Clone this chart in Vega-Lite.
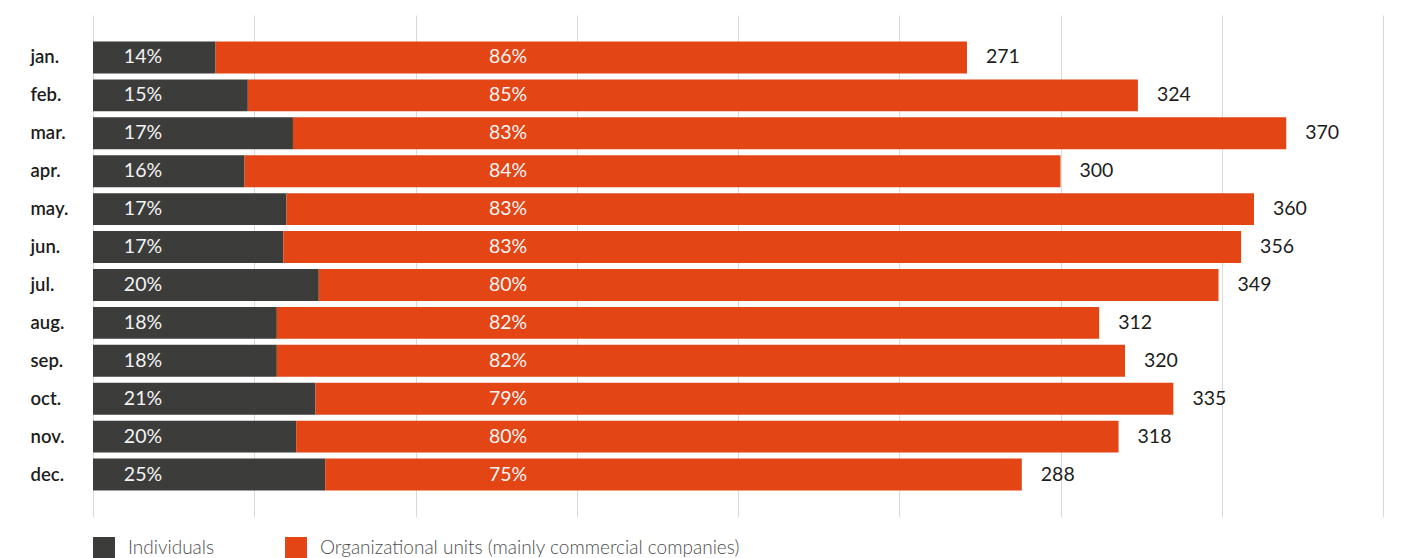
{
  "$schema": "https://vega.github.io/schema/vega-lite/v6.json",
  "width": 1290,
  "height": 502,
  "autosize": {"type": "none"},
  "padding": {"left": 93, "top": 15, "right": 21, "bottom": 41},
  "background": "white",
  "config": {"view": {"stroke": null}, "font": "Lato"},
  "data": {"values": [
    {"month": "jan.", "group": "Individuals", "seg": 1, "count": 38, "pct": 0.14, "total": 271},
    {"month": "jan.", "group": "Organizational units (mainly commercial companies)", "seg": 2, "count": 233, "pct": 0.86, "total": 271},
    {"month": "feb.", "group": "Individuals", "seg": 1, "count": 48, "pct": 0.15, "total": 324},
    {"month": "feb.", "group": "Organizational units (mainly commercial companies)", "seg": 2, "count": 276, "pct": 0.85, "total": 324},
    {"month": "mar.", "group": "Individuals", "seg": 1, "count": 62, "pct": 0.17, "total": 370},
    {"month": "mar.", "group": "Organizational units (mainly commercial companies)", "seg": 2, "count": 308, "pct": 0.83, "total": 370},
    {"month": "apr.", "group": "Individuals", "seg": 1, "count": 47, "pct": 0.16, "total": 300},
    {"month": "apr.", "group": "Organizational units (mainly commercial companies)", "seg": 2, "count": 253, "pct": 0.84, "total": 300},
    {"month": "may.", "group": "Individuals", "seg": 1, "count": 60, "pct": 0.17, "total": 360},
    {"month": "may.", "group": "Organizational units (mainly commercial companies)", "seg": 2, "count": 300, "pct": 0.83, "total": 360},
    {"month": "jun.", "group": "Individuals", "seg": 1, "count": 59, "pct": 0.17, "total": 356},
    {"month": "jun.", "group": "Organizational units (mainly commercial companies)", "seg": 2, "count": 297, "pct": 0.83, "total": 356},
    {"month": "jul.", "group": "Individuals", "seg": 1, "count": 70, "pct": 0.20, "total": 349},
    {"month": "jul.", "group": "Organizational units (mainly commercial companies)", "seg": 2, "count": 279, "pct": 0.80, "total": 349},
    {"month": "aug.", "group": "Individuals", "seg": 1, "count": 57, "pct": 0.18, "total": 312},
    {"month": "aug.", "group": "Organizational units (mainly commercial companies)", "seg": 2, "count": 255, "pct": 0.82, "total": 312},
    {"month": "sep.", "group": "Individuals", "seg": 1, "count": 57, "pct": 0.18, "total": 320},
    {"month": "sep.", "group": "Organizational units (mainly commercial companies)", "seg": 2, "count": 263, "pct": 0.82, "total": 320},
    {"month": "oct.", "group": "Individuals", "seg": 1, "count": 69, "pct": 0.21, "total": 335},
    {"month": "oct.", "group": "Organizational units (mainly commercial companies)", "seg": 2, "count": 266, "pct": 0.79, "total": 335},
    {"month": "nov.", "group": "Individuals", "seg": 1, "count": 63, "pct": 0.20, "total": 318},
    {"month": "nov.", "group": "Organizational units (mainly commercial companies)", "seg": 2, "count": 255, "pct": 0.80, "total": 318},
    {"month": "dec.", "group": "Individuals", "seg": 1, "count": 72, "pct": 0.25, "total": 288},
    {"month": "dec.", "group": "Organizational units (mainly commercial companies)", "seg": 2, "count": 216, "pct": 0.75, "total": 288}
  ]},
  "encoding": {
    "y": {
      "field": "month", "type": "nominal",
      "sort": ["jan.", "feb.", "mar.", "apr.", "may.", "jun.", "jul.", "aug.", "sep.", "oct.", "nov.", "dec."],
      "scale": {"paddingInner": 0.16, "paddingOuter": 0.7},
      "axis": {"title": null, "domain": false, "ticks": false, "labelAlign": "left", "labelPadding": 63,
               "labelFontSize": 18.5, "labelFontWeight": 600, "labelColor": "#1d1d1b"}
    }
  },
  "layer": [
    {
      "mark": {"type": "bar"},
      "encoding": {
        "x": {"field": "count", "type": "quantitative", "stack": "zero",
              "scale": {"domain": [0, 400], "nice": false},
              "axis": {"values": [0, 50, 100, 150, 200, 250, 300, 350, 400], "grid": true, "labels": false,
                       "ticks": false, "domain": false, "title": null, "gridColor": "#dadada", "gridWidth": 1}},
        "color": {"field": "group", "type": "nominal",
                  "scale": {"domain": ["Individuals", "Organizational units (mainly commercial companies)"], "range": ["#3c3c3b", "#e34515"]},
                  "legend": {"title": null, "orient": "none", "legendX": 0, "legendY": 522, "direction": "horizontal",
                             "padding": 0, "symbolType": "square", "symbolSize": 484, "symbolStrokeWidth": 0, "symbolOpacity": 1,
                             "labelFontSize": 19, "labelColor": "#4d4d4d", "labelFontWeight": 300, "labelOffset": 13,
                             "columnPadding": 70, "labelLimit": 600}},
        "order": {"field": "seg", "type": "quantitative"}
      }
    },
    {
      "transform": [{"filter": "datum.seg == 1"}],
      "mark": {"type": "text", "align": "center", "baseline": "middle", "fontSize": 19.5, "fontWeight": "normal", "color": "#f4f4f4"},
      "encoding": {"x": {"datum": 15.5}, "text": {"field": "pct", "type": "quantitative", "format": ".0%"}}
    },
    {
      "transform": [{"filter": "datum.seg == 2"}],
      "mark": {"type": "text", "align": "center", "baseline": "middle", "fontSize": 19.5, "fontWeight": "normal", "color": "#f4f4f4"},
      "encoding": {"x": {"datum": 128.7}, "text": {"field": "pct", "type": "quantitative", "format": ".0%"}}
    },
    {
      "transform": [{"filter": "datum.seg == 2"}],
      "mark": {"type": "text", "align": "left", "baseline": "middle", "dx": 19, "fontSize": 19.5, "color": "#1d1d1b"},
      "encoding": {"x": {"field": "total", "type": "quantitative"}, "text": {"field": "total", "type": "quantitative"}}
    }
  ]
}
